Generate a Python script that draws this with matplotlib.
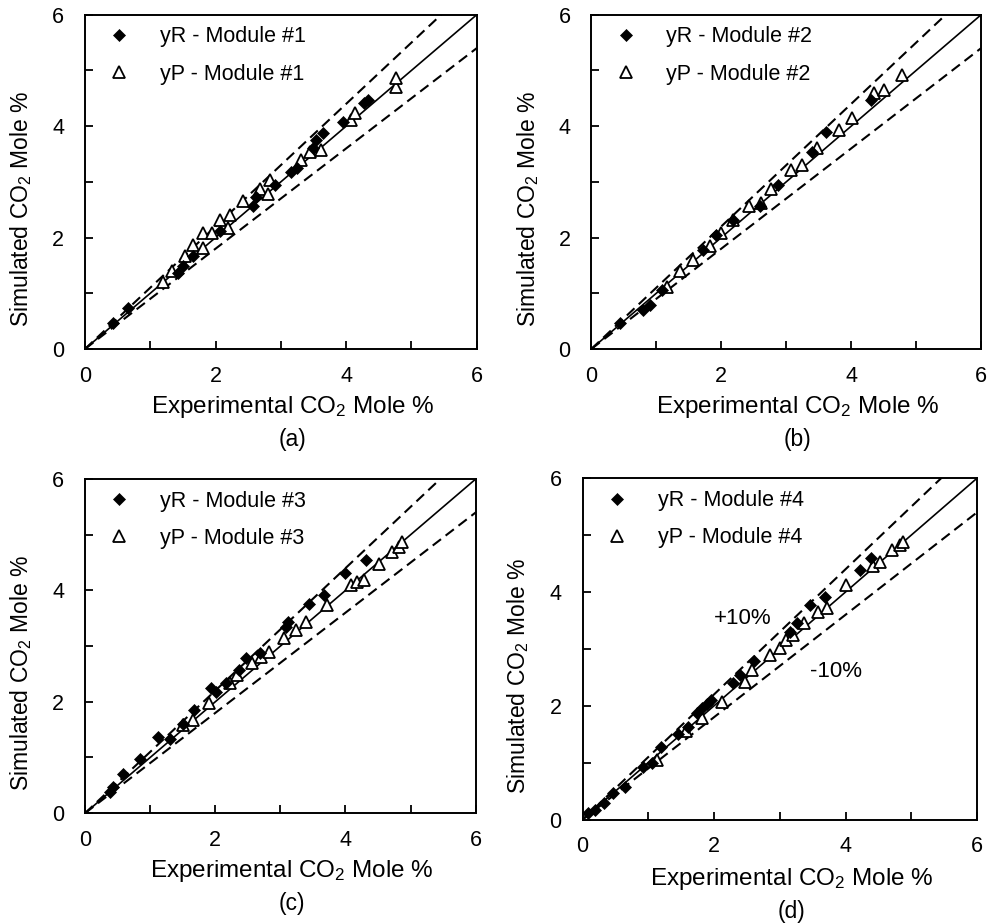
import matplotlib
matplotlib.use("Agg")
import matplotlib.pyplot as plt
from matplotlib.ticker import MultipleLocator

plt.rcParams['font.family'] = ['Liberation Sans', 'DejaVu Sans']
plt.rcParams['mathtext.default'] = 'regular'

# panel (a) - module 1
yr1_x = [0.43, 0.66, 1.43, 1.50, 1.66, 2.06, 2.57, 2.62, 2.91, 3.16, 3.24, 3.49, 3.54, 3.64, 3.95, 4.28, 4.33]
yr1_y = [0.46, 0.73, 1.36, 1.48, 1.66, 2.11, 2.56, 2.73, 2.94, 3.18, 3.24, 3.60, 3.75, 3.87, 4.08, 4.41, 4.47]
yp1_x = [1.20, 1.33, 1.53, 1.66, 1.81, 1.81, 1.94, 2.06, 2.19, 2.22, 2.42, 2.68, 2.80, 2.83, 3.31, 3.44, 3.62, 4.08, 4.13, 4.76, 4.77]
yp1_y = [1.21, 1.39, 1.66, 1.87, 1.81, 2.08, 2.08, 2.32, 2.17, 2.41, 2.65, 2.88, 2.79, 3.03, 3.39, 3.54, 3.57, 4.11, 4.23, 4.71, 4.86]

# panel (b) - module 2
yr2_x = [0.44, 0.80, 0.90, 1.08, 1.72, 1.92, 2.18, 2.59, 2.87, 3.40, 3.61, 4.30]
yr2_y = [0.46, 0.70, 0.79, 1.06, 1.78, 2.05, 2.32, 2.56, 2.94, 3.54, 3.90, 4.47]
yp2_x = [1.16, 1.36, 1.57, 1.82, 2.00, 2.18, 2.43, 2.61, 2.77, 3.07, 3.25, 3.48, 3.81, 4.02, 4.35, 4.50, 4.78]
yp2_y = [1.12, 1.39, 1.60, 1.84, 2.08, 2.32, 2.56, 2.62, 2.88, 3.21, 3.30, 3.60, 3.93, 4.14, 4.59, 4.65, 4.92]

# panel (c) - module 3
yr3_x = [0.38, 0.43, 0.59, 0.84, 1.12, 1.30, 1.50, 1.68, 1.94, 2.01, 2.17, 2.37, 2.47, 2.68, 3.08, 3.11, 3.44, 3.67, 4.00, 4.31]
yr3_y = [0.38, 0.47, 0.71, 0.98, 1.37, 1.34, 1.61, 1.85, 2.24, 2.18, 2.33, 2.57, 2.78, 2.87, 3.35, 3.43, 3.76, 3.91, 4.31, 4.54]
yp3_x = [1.50, 1.66, 1.91, 2.22, 2.34, 2.57, 2.70, 2.83, 3.06, 3.24, 3.39, 3.72, 4.08, 4.18, 4.28, 4.51, 4.71, 4.82, 4.87]
yp3_y = [1.58, 1.67, 1.97, 2.33, 2.48, 2.69, 2.81, 2.90, 3.14, 3.29, 3.44, 3.73, 4.09, 4.15, 4.18, 4.48, 4.69, 4.78, 4.87]

# panel (d) - module 4
yr4_x = [0.09, 0.19, 0.32, 0.47, 0.65, 0.92, 1.05, 1.20, 1.45, 1.61, 1.74, 1.81, 1.89, 1.96, 2.29, 2.39, 2.60, 3.15, 3.26, 3.46, 3.69, 4.22, 4.39]
yr4_y = [0.11, 0.17, 0.29, 0.46, 0.58, 0.93, 0.99, 1.28, 1.50, 1.63, 1.88, 1.96, 2.04, 2.10, 2.40, 2.54, 2.78, 3.30, 3.45, 3.77, 3.92, 4.39, 4.59]
yp4_x = [1.13, 1.58, 1.81, 2.12, 2.47, 2.57, 2.85, 3.00, 3.10, 3.20, 3.36, 3.58, 3.71, 4.01, 4.42, 4.52, 4.70, 4.83, 4.88]
yp4_y = [1.05, 1.55, 1.78, 2.07, 2.42, 2.63, 2.89, 3.01, 3.16, 3.24, 3.45, 3.65, 3.71, 4.12, 4.45, 4.53, 4.74, 4.83, 4.88]

panels = [
    ('(a)', '#1', yr1_x, yr1_y, yp1_x, yp1_y),
    ('(b)', '#2', yr2_x, yr2_y, yp2_x, yp2_y),
    ('(c)', '#3', yr3_x, yr3_y, yp3_x, yp3_y),
    ('(d)', '#4', yr4_x, yr4_y, yp4_x, yp4_y),
]

# axes boxes in figure fractions [left, bottom, width, height]
boxes = [
    [0.086, 0.622, 0.396, 0.362],
    [0.598, 0.622, 0.394, 0.362],
    [0.086, 0.119, 0.395, 0.362],
    [0.589, 0.112, 0.399, 0.370],
]

fig = plt.figure(figsize=(9.89, 9.23), dpi=100)

line = [0, 6]
for box, (tag, mod, rx, ry, px, py) in zip(boxes, panels):
    ax = fig.add_axes(box)
    ax.plot(line, line, color='black', lw=1.2, zorder=1)
    ax.plot(line, [1.1 * v for v in line], color='black', lw=1.5, ls=(0, (5, 2.8)), zorder=1)
    ax.plot(line, [0.9 * v for v in line], color='black', lw=1.5, ls=(0, (5, 2.8)), zorder=1)
    ax.plot(rx, ry, ls='none', marker='D', ms=5.8, mfc='black', mec='black', mew=0.5,
            label='yR - Module ' + mod, zorder=3)
    ax.plot(px, py, ls='none', marker='^', ms=8, mfc='white', mec='black', mew=1.3,
            label='yP - Module ' + mod, zorder=2)

    ax.set_xlim(0, 6)
    ax.set_ylim(0, 6)
    ax.xaxis.set_major_locator(MultipleLocator(2))
    ax.yaxis.set_major_locator(MultipleLocator(2))
    ax.xaxis.set_minor_locator(MultipleLocator(1))
    ax.yaxis.set_minor_locator(MultipleLocator(1))
    ax.tick_params(which='both', direction='in', length=6, width=1.3,
                   labelsize=15.5, top=False, right=False)
    ax.tick_params(axis='x', pad=12)
    ax.tick_params(axis='y', pad=15)
    for s in ax.spines.values():
        s.set_linewidth(1.4)

    ax.set_xlabel('Experimental CO$_2$ Mole %', fontsize=17.5)
    ax.set_ylabel('Simulated CO$_2$ Mole %', fontsize=16.5)
    ax.xaxis.set_label_coords(0.53, -0.135)
    ax.yaxis.set_label_coords(-0.13, 0.42)
    ax.text(0.53, -0.27, tag, transform=ax.transAxes, ha='center', va='center', fontsize=16.5)

    ax.legend(loc='upper left', bbox_to_anchor=(0.06, 0.965), frameon=False,
              borderaxespad=0, borderpad=0, handlelength=1.0, handletextpad=1.4,
              labelspacing=0.75, fontsize=15.5)

    if tag == '(d)':
        ax.text(2.44, 3.54, '+10%', fontsize=16, ha='center', va='center')
        ax.text(3.86, 2.60, '-10%', fontsize=16, ha='center', va='center')

fig.savefig('out.png', dpi=100)
